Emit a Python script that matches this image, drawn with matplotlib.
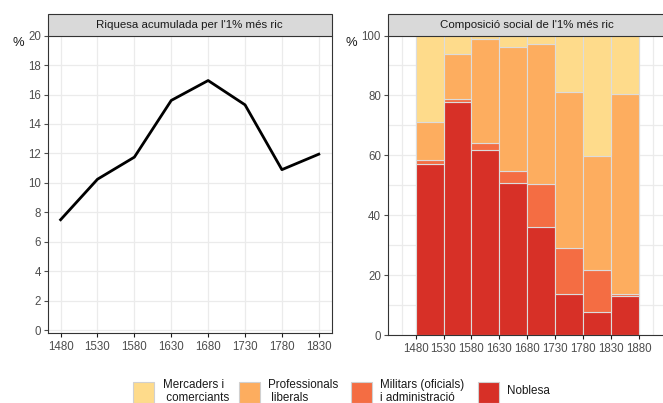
import numpy as np
import matplotlib
matplotlib.use("Agg")
import matplotlib.pyplot as plt
from matplotlib.patches import Rectangle

plt.rcParams['font.family'] = ['Liberation Sans', 'DejaVu Sans']

# riquesa acumulada per l'1% més ric
years = [1480, 1530, 1580, 1630, 1680, 1730, 1780, 1830]
riquesa = [7.5, 10.25, 11.75, 15.6, 16.95, 15.3, 10.9, 11.95]

# composició social (percentatges llegits del gràfic)
bar_left = [1480, 1530, 1580, 1630, 1680, 1730, 1780, 1830]
noblesa = [57.2, 77.7, 61.9, 50.8, 36.0, 13.8, 7.7, 13.0]
militars = [1.3, 1.0, 2.2, 4.1, 14.3, 15.1, 14.0, 0.7]
professionals = [12.6, 15.2, 34.8, 41.4, 46.7, 52.2, 38.1, 66.9]
mercaders = [100 - a - b - c for a, b, c in zip(noblesa, militars, professionals)]

grups = ["Mercaders i\n comerciants", "Professionals\n liberals",
         "Militars (oficials)\ni administració", "Noblesa"]
colors = ["#FEDB8B", "#FDAD5F", "#F46D43", "#D73027"]

W, H = 663, 403
fig = plt.figure(figsize=(W / 100, H / 100), dpi=100)


def box(x0, x1, ytop, ybot):
    return [x0 / W, 1 - ybot / H, (x1 - x0) / W, (ybot - ytop) / H]


tick_col = "#4D4D4D"
grid_col = "#EBEBEB"
spine_col = "#333333"


def style(ax):
    ax.set_facecolor("white")
    ax.spines["top"].set_visible(False)
    for s in ["left", "bottom", "right"]:
        ax.spines[s].set_color(spine_col)
        ax.spines[s].set_linewidth(0.8)
    ax.tick_params(axis="both", labelsize=8.3, labelcolor=tick_col, length=2.8, width=0.8)
    ax.tick_params(axis="y", color=tick_col, pad=2)
    ax.tick_params(axis="x", color="#1A1A1A", pad=3)
    ax.set_axisbelow(True)


def strip(x0, x1, text):
    r = Rectangle((x0 / W, 1 - 35.6 / H), (x1 - x0) / W, 21.3 / H, transform=fig.transFigure,
                  facecolor="#D9D9D9", edgecolor=spine_col, linewidth=0.8, clip_on=False)
    fig.add_artist(r)
    xc = (x0 + x1) / 2 if x1 < 663 else (x0 + 667) / 2
    fig.text(xc / W, 1 - 25 / H, text, ha="center", va="center",
             fontsize=8.25, color="#1A1A1A")


# panell esquerre
ax1 = fig.add_axes(box(47.7, 331.7, 35.6, 333))
style(ax1)
ax1.plot(years, riquesa, color="black", linewidth=2.0, solid_joinstyle="round")
ax1.set_xlim(1462.5, 1847.5)
ax1.set_ylim(-0.19, 20)
ax1.set_xticks(years)
ax1.set_yticks(np.arange(0, 21, 2))
ax1.grid(True, color=grid_col, linewidth=0.9)
strip(47.7, 331.7, "Riquesa acumulada per l'1% més ric")
fig.text(12 / W, 1 - 43 / H, "%", fontsize=9.4, ha="left", va="center", color="#1A1A1A")

# panell dret
ax2 = fig.add_axes(box(387.7, 666.7, 35.5, 335))
style(ax2)
ax2.spines["right"].set_visible(False)
bottom = np.zeros(len(bar_left))
for vals, c in zip([noblesa, militars, professionals, mercaders], colors[::-1]):
    ax2.bar(bar_left, vals, width=50, bottom=bottom, align="edge", color=c,
            edgecolor="#DCDCDC", linewidth=0.8)
    bottom += np.array(vals)
ax2.set_xlim(1430, 1930)
ax2.set_ylim(0, 100)
ax2.set_xticks(bar_left + [1880])
ax2.set_xticks([1455, 1905], minor=True)
ax2.set_yticks(np.arange(0, 101, 20))
ax2.set_yticks(np.arange(10, 100, 20), minor=True)
ax2.tick_params(which="minor", length=0)
ax2.grid(True, which="both", color=grid_col, linewidth=0.9)
strip(387.7, 670, "Composició social de l'1% més ric")
fig.text(346 / W, 1 - 43 / H, "%", fontsize=9.4, ha="left", va="center", color="#1A1A1A")

# llegenda
key_x = [133, 239, 351, 478]
text_x = [163, 268, 380, 507]
for kx, tx, lab, c in zip(key_x, text_x, grups, colors):
    fig.add_artist(Rectangle((kx / W, 1 - 402.5 / H), 21 / W, 21 / H, transform=fig.transFigure,
                             facecolor=c, edgecolor="#D0D0D0", linewidth=0.8, clip_on=False))
    fig.text(tx / W, 1 - 391.5 / H, lab, fontsize=8.4, ha="left", va="center",
             color="#1A1A1A", linespacing=1.1)

fig.savefig("out.png", dpi=100)
